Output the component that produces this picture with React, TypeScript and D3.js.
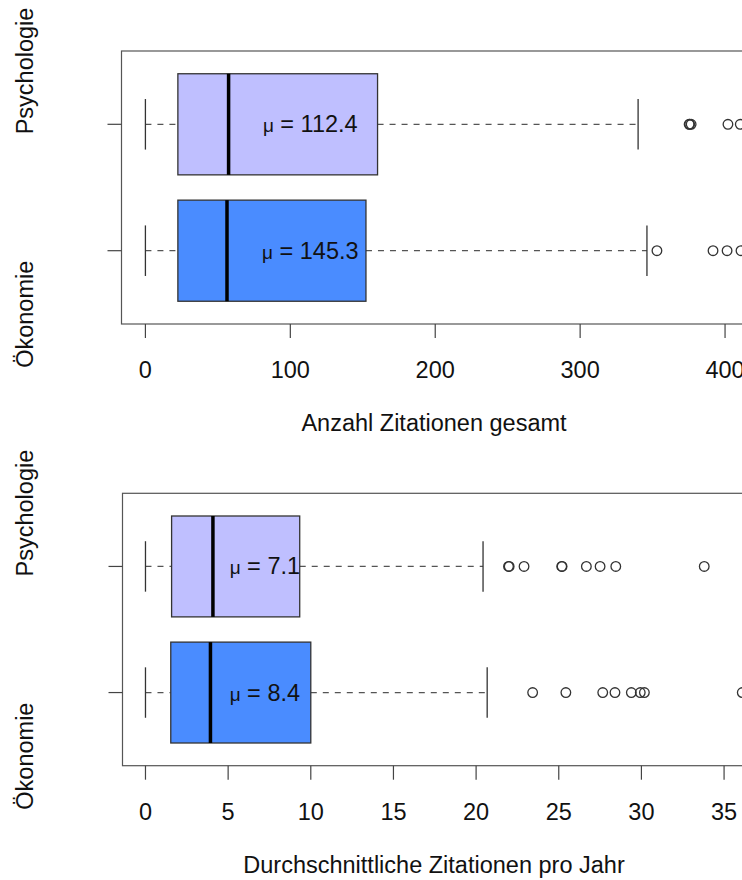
import * as d3 from "d3";

const groups = ["Psychologie", "Ökonomie"];
const boxColors = ["#bfbfff", "#4a8cff"];

// five-number summaries: lower whisker, Q1, median, Q3, upper whisker
const totalPsych = [0, 22.4, 57.4, 160.2, 340];
const totalOeko = [0, 22.4, 56.3, 152.2, 346.1];
const totalPsychOut = [375.2, 375.6, 376.6, 402, 410.5];
const totalOekoOut = [353, 391.7, 401.4, 411];
const totalMeans = [112.4, 145.3];
const totalTicks = [0, 100, 200, 300, 400];

const yearPsych = [0, 1.58, 4.08, 9.33, 20.42];
const yearOeko = [0, 1.53, 3.93, 10.0, 20.67];
const yearPsychOut = [21.96, 22.0, 22.9, 25.18, 25.2, 26.67, 27.5, 28.45, 33.8];
const yearOekoOut = [23.42, 25.43, 27.66, 28.4, 29.39, 29.93, 30.18, 36.1];
const yearMeans = [7.1, 8.4];
const yearTicks = [0, 5, 10, 15, 20, 25, 30, 35];

const FONT = "'Liberation Sans', Arial, Helvetica, sans-serif";
const FS = 23.5;

type PanelProps = {
  stats: number[][];
  outliers: number[][];
  means: number[];
  ticks: number[];
  xDomain: [number, number];
  xRange: [number, number];
  top: number;
  bottom: number;
  title: string;
  fmt: (v: number) => string;
};

function Panel({ stats, outliers, means, ticks, xDomain, xRange, top, bottom, title, fmt }: PanelProps) {
  const x = d3.scaleLinear().domain(xDomain).range(xRange);
  // R style: Psychologie sits at position 2 (upper), Ökonomie at 1
  const y = d3.scaleLinear().domain([0.42, 2.58]).range([bottom, top]);
  const pos = (i: number) => y(2 - i);
  const half = y(0) - y(0.4);
  const cap = half / 2;
  const left = xRange[0];
  const right = xRange[1];

  return (
    <g>
      {/* frame */}
      <rect x={left} y={top} width={right - left} height={bottom - top} fill="none" stroke="#555" strokeWidth={1.2} />

      {stats.map((s, i) => {
        const cy = pos(i);
        return (
          <g key={i}>
            <line x1={x(s[0])} x2={x(s[1])} y1={cy} y2={cy} stroke="#555" strokeDasharray="6,6" strokeWidth={1.3} />
            <line x1={x(s[3])} x2={x(s[4])} y1={cy} y2={cy} stroke="#555" strokeDasharray="6,6" strokeWidth={1.3} />
            <line x1={x(s[0])} x2={x(s[0])} y1={cy - cap} y2={cy + cap} stroke="#333" strokeWidth={1.3} />
            <line x1={x(s[4])} x2={x(s[4])} y1={cy - cap} y2={cy + cap} stroke="#333" strokeWidth={1.3} />
            <rect x={x(s[1])} y={cy - half} width={x(s[3]) - x(s[1])} height={2 * half} fill={boxColors[i]} stroke="#333" strokeWidth={1.3} />
            <line x1={x(s[2])} x2={x(s[2])} y1={cy - half} y2={cy + half} stroke="#000" strokeWidth={3.5} />
            {outliers[i].map((o, j) => (
              <circle key={j} cx={x(o)} cy={cy} r={4.8} fill="none" stroke="#333" strokeWidth={1.3} />
            ))}
            <text x={x(means[0]) + 2} y={cy + 8} textAnchor="middle" fontFamily={FONT} fontSize={FS} fill="#111">
              <tspan fontSize={19}>μ</tspan>
              {" = " + fmt(means[i])}
            </text>
          </g>
        );
      })}

      {/* y axis ticks + labels */}
      {groups.map((g, i) => {
        const cy = pos(i);
        return (
          <g key={g}>
            <line x1={left} x2={left - 14} y1={cy} y2={cy} stroke="#444" strokeWidth={1.2} />
            <text
              transform={`translate(33,${cy + 10}) rotate(-90)`}
              textAnchor={i === 0 ? "start" : "end"}
              fontFamily={FONT}
              fontSize={FS}
              fill="#111"
            >
              {g}
            </text>
          </g>
        );
      })}

      {/* x axis */}
      {ticks.map((t) => (
        <g key={t}>
          <line x1={x(t)} x2={x(t)} y1={bottom} y2={bottom + 14} stroke="#444" strokeWidth={1.2} />
          <text x={x(t)} y={bottom + 54} textAnchor="middle" fontFamily={FONT} fontSize={FS} fill="#111">
            {t}
          </text>
        </g>
      ))}
      <text x={434} y={bottom + 107} textAnchor="middle" fontFamily={FONT} fontSize={FS} fill="#111">
        {title}
      </text>
    </g>
  );
}

export default function App() {
  return (
    <svg
      width={742}
      height={880}
      style={{ position: "absolute", left: 0, top: 0, background: "#fff" }}
    >
      <Panel
        stats={[totalPsych, totalOeko]}
        outliers={[totalPsychOut, totalOekoOut]}
        means={totalMeans}
        ticks={totalTicks}
        xDomain={[-16.5, 429.5]}
        xRange={[121.5, 767.8]}
        top={51}
        bottom={324}
        title="Anzahl Zitationen gesamt"
        fmt={(v) => v.toFixed(1)}
      />
      <Panel
        stats={[yearPsych, yearOeko]}
        outliers={[yearPsychOut, yearOekoOut]}
        means={yearMeans}
        ticks={yearTicks}
        xDomain={[-1.39, 37.5]}
        xRange={[122.5, 765.4]}
        top={493.3}
        bottom={765.7}
        title="Durchschnittliche Zitationen pro Jahr"
        fmt={(v) => v.toFixed(1)}
      />
    </svg>
  );
}
